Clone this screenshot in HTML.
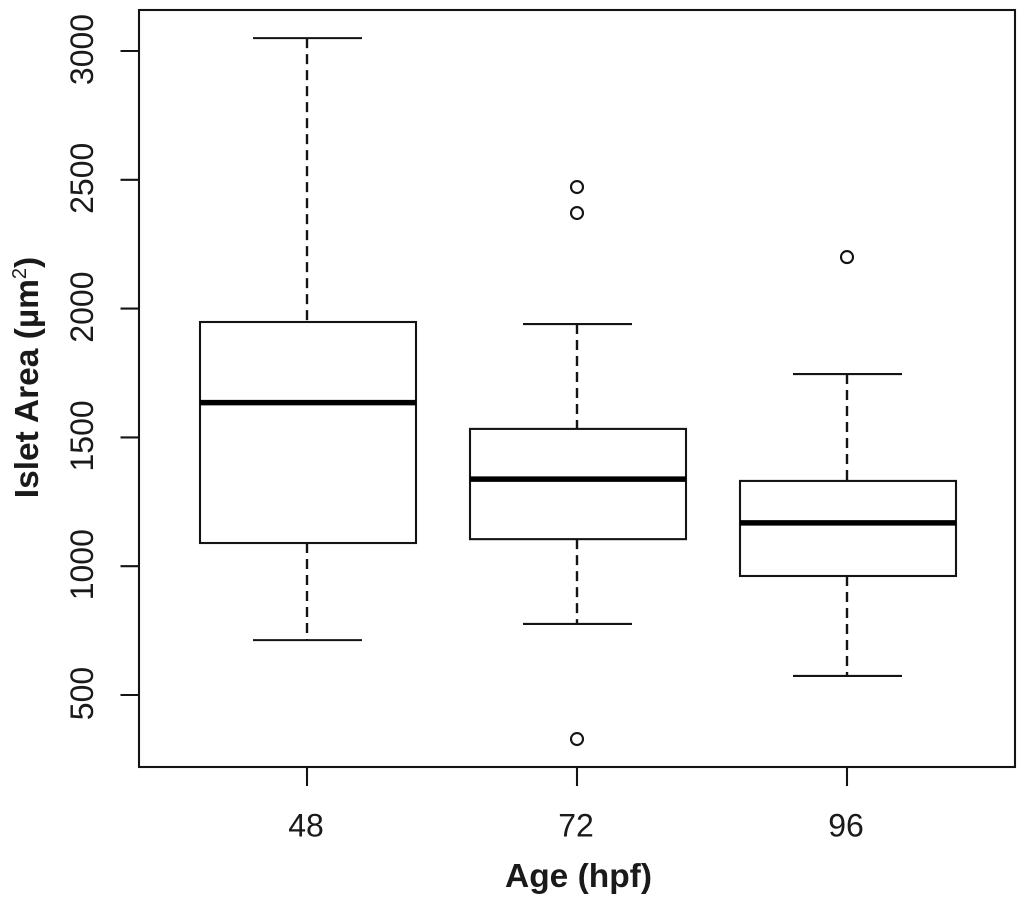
<!DOCTYPE html>
<html>
<head>
<meta charset="utf-8">
<title>Islet Area by Age</title>
<style>
html,body{margin:0;padding:0;background:#fff;}
svg{display:block;}
text{font-family:"Liberation Sans",sans-serif;fill:#1a1a1a;}
</style>
</head>
<body>
<svg id="chart" width="1024" height="905" viewBox="0 0 1024 905" xmlns="http://www.w3.org/2000/svg"></svg>
<script>
const categories = ["48", "72", "96"];
const whiskerHigh = [3050, 1940, 1746];
const quartile3 = [1948, 1533, 1331];
const medians = [1635, 1338, 1168];
const quartile1 = [1090, 1105, 962];
const whiskerLow = [713, 776, 574];
const outliers48 = [];
const outliers72 = [2472, 2371, 329];
const outliers96 = [2200];
const yTicks = [500, 1000, 1500, 2000, 2500, 3000];

const outliers = [outliers48, outliers72, outliers96];
const svg = document.getElementById('chart');
const NS = 'http://www.w3.org/2000/svg';
const INK = '#141414';
const SW = 2.1;

function yScale(v) { return 695 - (v - 500) * (644 / 2500); }
function xScale(i) { return 307 + i * 270; }

function add(tag, attrs, name, text) {
  const el = document.createElementNS(NS, tag);
  for (const k in attrs) el.setAttribute(k, attrs[k]);
  
  
  if (text !== undefined) el.textContent = text;
  svg.appendChild(el);
  return el;
}

add('rect', {x: 0, y: 0, width: 1024, height: 905, fill: '#fff'}, 'background');
add('rect', {x: 139, y: 10, width: 876, height: 757, fill: 'none', stroke: INK, 'stroke-width': SW}, 'plot-frame');

yTicks.forEach(function (t) {
  const y = yScale(t);
  add('line', {x1: 120.5, x2: 139, y1: y, y2: y, stroke: INK, 'stroke-width': SW}, 'y-tick-' + t);
  add('text', {transform: 'translate(93,' + (y - 1.5) + ') rotate(-90)', 'text-anchor': 'middle', 'font-size': 32}, 'y-tick-label-' + t, String(t));
});

categories.forEach(function (c, i) {
  const x = xScale(i);
  add('line', {x1: x, x2: x, y1: 767, y2: 786, stroke: INK, 'stroke-width': SW}, 'x-tick-' + c);
  add('text', {x: x - 1, y: 836.5, 'text-anchor': 'middle', 'font-size': 32}, 'x-tick-label-' + c, c);

  add('line', {x1: x, x2: x, y1: yScale(whiskerHigh[i]), y2: yScale(quartile3[i]), stroke: INK, 'stroke-width': SW + 0.3, 'stroke-dasharray': '10 6'}, 'upper-whisker-' + c);
  add('line', {x1: x, x2: x, y1: yScale(quartile1[i]), y2: yScale(whiskerLow[i]), stroke: INK, 'stroke-width': SW + 0.3, 'stroke-dasharray': '10 6'}, 'lower-whisker-' + c);
  add('line', {x1: x - 54, x2: x + 55, y1: yScale(whiskerHigh[i]), y2: yScale(whiskerHigh[i]), stroke: INK, 'stroke-width': SW}, 'upper-cap-' + c);
  add('line', {x1: x - 54, x2: x + 55, y1: yScale(whiskerLow[i]), y2: yScale(whiskerLow[i]), stroke: INK, 'stroke-width': SW}, 'lower-cap-' + c);
  add('rect', {x: x - 107, y: yScale(quartile3[i]), width: 216, height: yScale(quartile1[i]) - yScale(quartile3[i]), fill: '#fff', stroke: INK, 'stroke-width': SW}, 'box-' + c);
  add('line', {x1: x - 107, x2: x + 109, y1: yScale(medians[i]), y2: yScale(medians[i]), stroke: '#000', 'stroke-width': 5.5}, 'median-' + c);
  outliers[i].forEach(function (v, j) {
    add('circle', {cx: x, cy: yScale(v), r: 6, fill: 'none', stroke: INK, 'stroke-width': SW}, 'outlier-' + c + '-' + j);
  });
});

add('text', {x: 578.5, y: 887, 'text-anchor': 'middle', 'font-size': 33.5, 'font-weight': 'bold'}, 'x-axis-title', 'Age (hpf)');

const yTitle = add('text', {transform: 'translate(38,377.5) rotate(-90)', 'text-anchor': 'middle', 'font-size': 33.5, 'font-weight': 'bold'}, 'y-axis-title', 'Islet Area (µm');
const sup = document.createElementNS(NS, 'tspan');
sup.setAttribute('font-size', '20');
sup.setAttribute('font-weight', 'normal');
sup.setAttribute('dy', '-12');
sup.textContent = '2';
yTitle.appendChild(sup);
const close = document.createElementNS(NS, 'tspan');
close.setAttribute('dy', '12');
close.textContent = ')';
yTitle.appendChild(close);
</script>
</body>
</html>
